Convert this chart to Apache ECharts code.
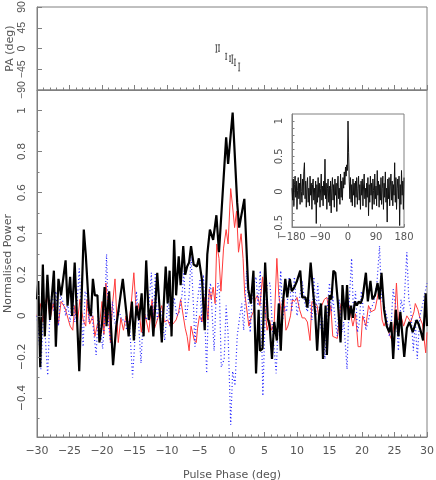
<!DOCTYPE html>
<html>
<head>
<meta charset="utf-8">
<script src="https://cdn.jsdelivr.net/npm/echarts@6/dist/echarts.min.js"></script>
<style>
  html, body { margin: 0; padding: 0; background: #fff; }
  #chart { width: 436px; height: 480px; }
</style>
</head>
<body>
<div id="chart"></div>
<script>
// position angle points: phase (deg), PA (deg), error (deg)
const paPhase = [-2.4, -2.0, -0.9, -0.3, 0.05, 0.45, 1.1];
const paValue = [0, 1, -17, -22, -23, -30, -40];
const paError = [8, 7, 6.5, 6, 9, 7, 8.5];

// main profile, [phase, normalised power]
const totalPower = [
  [-30.0, 0.08], [-29.8, 0.17], [-29.5, -0.25], [-29.1, 0.25], [-28.8, -0.10], [-28.4, 0.20],
  [-28.0, -0.02], [-27.4, 0.22], [-27.1, -0.15], [-26.7, 0.18], [-26.3, 0.10], [-25.6, 0.27],
  [-25.3, 0.05], [-24.9, 0.19], [-24.6, 0.00], [-24.2, 0.26], [-23.5, -0.27], [-22.8, 0.42],
  [-22.5, 0.30], [-22.0, 0.03], [-21.7, 0.00], [-21.4, 0.18], [-21.1, 0.10], [-20.7, 0.10],
  [-20.4, -0.13], [-20.0, -0.04], [-19.6, 0.14], [-19.3, -0.05], [-18.9, 0.12], [-18.3, -0.24],
  [-17.8, -0.05], [-17.5, -0.05], [-16.8, 0.18], [-16.2, 0.00], [-15.9, -0.10], [-15.4, 0.07],
  [-15.1, -0.12], [-14.7, 0.05], [-14.3, -0.02], [-13.9, 0.11], [-13.6, -0.10], [-13.2, 0.27],
  [-12.8, -0.02], [-12.4, 0.05], [-12.1, -0.10], [-11.5, 0.21], [-10.8, -0.13], [-10.2, 0.24],
  [-9.9, 0.06], [-9.6, 0.22], [-9.3, -0.10], [-8.9, 0.37], [-8.6, 0.10], [-8.2, 0.29],
  [-7.9, 0.15], [-7.5, 0.34], [-7.2, 0.20], [-6.9, 0.24], [-6.6, 0.26], [-6.3, 0.34],
  [-5.9, 0.25], [-5.4, 0.24], [-5.1, 0.28], [-4.6, 0.17], [-4.2, -0.07], [-3.8, 0.30],
  [-3.4, 0.42], [-2.9, 0.37], [-2.4, 0.49], [-2.0, 0.31], [-0.9, 0.87], [-0.6, 0.74],
  [0.1, 0.99], [0.8, 0.55], [1.1, 0.43], [1.9, 0.57], [2.5, 0.13], [2.9, 0.06],
  [3.3, 0.22], [3.7, -0.28], [4.1, 0.03], [4.3, -0.17], [4.7, -0.16], [5.1, 0.26],
  [5.5, -0.01], [5.8, -0.05], [6.15, -0.21], [6.5, -0.03], [6.9, -0.12], [7.2, 0.06],
  [7.5, -0.17], [7.8, 0.05], [8.2, 0.18], [8.5, 0.09], [8.9, 0.18], [9.2, 0.12],
  [9.6, 0.14], [10.0, 0.17], [10.5, 0.22], [10.8, 0.09], [11.3, 0.09], [11.6, 0.04],
  [12.1, 0.26], [12.5, 0.11], [12.8, 0.01], [13.1, -0.17], [13.4, 0.00], [13.7, 0.06],
  [14.0, -0.21], [14.4, 0.05], [14.6, -0.19], [15.0, 0.10], [15.3, 0.08], [15.6, 0.22],
  [15.9, 0.21], [16.3, 0.06], [16.7, -0.13], [17.0, 0.15], [17.4, -0.02], [17.7, 0.15],
  [17.95, -0.02], [18.3, 0.05], [18.6, -0.01], [18.9, 0.07], [19.2, 0.05], [19.5, 0.07],
  [19.8, 0.06], [20.1, 0.09], [20.6, 0.21], [20.9, 0.07], [21.3, 0.17], [21.6, 0.08],
  [22.0, 0.10], [22.4, 0.16], [22.7, 0.08], [23.0, 0.21], [23.4, 0.03], [23.8, -0.05],
  [24.2, -0.08], [24.5, -0.03], [24.8, -0.21], [25.2, 0.03], [25.6, -0.10], [25.9, 0.02],
  [26.5, -0.20], [26.9, -0.06], [27.3, -0.03], [27.8, -0.08], [28.4, -0.02], [28.7, -0.04],
  [29.0, -0.07], [29.4, -0.12], [29.8, 0.11], [30.0, -0.05]
];

const linearPower = [
  [-30.0, 0.00], [-29.5, 0.06], [-29.1, -0.03], [-28.8, 0.06], [-28.4, 0.10], [-28.0, -0.02],
  [-27.5, 0.06], [-27.1, 0.00], [-26.9, 0.03], [-26.7, -0.04], [-26.3, 0.07], [-25.7, 0.04],
  [-24.9, -0.05], [-24.5, -0.07], [-24.2, 0.05], [-23.8, -0.04], [-23.4, 0.08], [-22.9, -0.02],
  [-22.5, -0.05], [-22.3, 0.08], [-21.9, -0.04], [-21.4, 0.00], [-21.1, -0.10], [-20.7, -0.04],
  [-20.4, -0.05], [-20.0, 0.07], [-19.7, -0.09], [-19.4, 0.16], [-19.0, 0.02], [-18.7, -0.13],
  [-18.4, 0.05], [-18.0, 0.18], [-17.7, -0.02], [-17.5, -0.13], [-17.1, -0.01], [-16.7, -0.07],
  [-16.3, 0.00], [-16.0, -0.07], [-15.5, 0.06], [-15.1, 0.21], [-14.7, 0.00], [-14.4, 0.06],
  [-13.95, -0.08], [-13.6, 0.03], [-13.2, -0.02], [-12.8, -0.08], [-12.3, 0.08], [-11.9, -0.06],
  [-11.3, 0.00], [-10.8, 0.05], [-10.4, -0.03], [-9.9, -0.02], [-9.5, -0.05], [-9.1, -0.04],
  [-8.6, -0.02], [-8.2, 0.02], [-7.9, 0.08], [-7.5, 0.00], [-7.2, -0.06], [-6.9, -0.10],
  [-6.6, -0.17], [-6.3, -0.05], [-5.8, -0.12], [-5.5, -0.13], [-5.3, -0.06], [-5.0, 0.00],
  [-4.6, -0.03], [-4.2, 0.09], [-3.9, 0.05], [-3.7, -0.02], [-3.5, 0.13], [-3.2, 0.08],
  [-2.9, 0.14], [-2.6, 0.06], [-2.35, 0.35], [-2.0, 0.28], [-1.7, 0.12], [-1.3, 0.33],
  [-0.9, 0.42], [-0.6, 0.35], [-0.2, 0.62], [0.1, 0.53], [0.4, 0.43], [0.7, 0.51],
  [1.0, 0.31], [1.4, 0.40], [1.7, 0.28], [1.95, 0.11], [2.2, 0.05], [2.6, -0.05],
  [3.0, 0.00], [3.3, 0.02], [3.6, 0.08], [3.9, 0.10], [4.3, 0.05], [4.7, 0.19],
  [5.1, 0.03], [5.4, -0.07], [5.8, -0.02], [6.1, -0.07], [6.5, -0.03], [6.9, 0.28],
  [7.2, 0.10], [7.7, -0.01], [8.0, 0.08], [8.3, -0.07], [8.6, -0.05], [9.0, 0.00],
  [9.3, 0.08], [9.6, 0.07], [10.0, 0.09], [10.4, 0.03], [10.8, -0.01], [11.2, -0.01],
  [11.6, -0.03], [12.0, -0.12], [12.3, 0.07], [12.7, 0.06], [13.1, 0.05], [13.4, -0.02],
  [13.8, 0.05], [14.2, 0.08], [14.6, 0.09], [15.0, 0.00], [15.2, 0.05], [15.5, -0.10],
  [15.8, -0.10], [16.2, -0.11], [16.7, 0.05], [17.0, 0.08], [17.3, 0.02], [17.7, 0.07],
  [18.0, 0.05], [18.6, -0.05], [19.0, 0.01], [19.4, -0.15], [19.8, -0.15], [20.1, 0.00],
  [20.6, -0.05], [21.0, 0.05], [21.4, 0.02], [22.0, 0.03], [22.5, 0.11], [22.8, 0.09],
  [23.1, -0.02], [23.4, -0.05], [23.7, -0.02], [24.1, -0.08], [24.6, -0.12], [25.0, -0.02],
  [25.3, 0.16], [25.6, -0.02], [26.0, 0.00], [26.4, -0.05], [26.9, 0.00], [27.5, -0.03],
  [28.0, 0.02], [28.2, 0.06], [28.6, 0.03], [28.9, -0.01], [29.3, -0.04], [29.8, -0.18],
  [30.0, -0.08]
];

const circularPower = [
  [-30.0, 0.00], [-29.6, -0.15], [-29.4, -0.26], [-29.1, -0.05], [-28.9, 0.00], [-28.6, -0.17],
  [-28.35, -0.29], [-28.0, 0.03], [-27.7, 0.12], [-27.4, 0.02], [-27.1, 0.12], [-26.7, -0.05],
  [-26.4, 0.10], [-25.9, 0.06], [-25.6, 0.00], [-25.3, 0.06], [-24.9, -0.03], [-24.5, 0.12],
  [-24.2, -0.03], [-23.8, 0.08], [-23.5, 0.23], [-23.2, 0.02], [-22.9, -0.15], [-22.6, 0.12],
  [-22.3, 0.10], [-22.0, -0.03], [-21.7, 0.05], [-21.4, -0.04], [-20.9, -0.19], [-20.6, 0.00],
  [-20.3, -0.04], [-19.9, -0.16], [-19.6, -0.02], [-19.3, 0.30], [-19.0, -0.04], [-18.7, -0.13],
  [-18.4, 0.07], [-18.0, -0.04], [-17.7, -0.02], [-17.4, 0.03], [-17.0, -0.02], [-16.5, -0.02],
  [-16.2, -0.07], [-15.8, -0.02], [-15.3, -0.30], [-15.0, -0.15], [-14.7, 0.12], [-14.4, -0.02],
  [-14.0, -0.23], [-13.6, 0.03], [-13.2, -0.02], [-12.9, 0.01], [-12.4, 0.21], [-12.1, -0.04],
  [-11.8, 0.21], [-11.5, -0.02], [-11.2, 0.05], [-10.8, 0.01], [-10.35, -0.12], [-9.8, 0.10],
  [-9.6, -0.05], [-9.3, 0.00], [-8.9, 0.09], [-8.5, 0.00], [-8.1, 0.02], [-7.7, 0.10],
  [-7.4, 0.22], [-7.1, -0.02], [-6.9, 0.02], [-6.6, 0.10], [-6.3, 0.29], [-5.9, 0.03],
  [-5.7, -0.15], [-5.4, 0.05], [-5.1, 0.05], [-4.9, 0.18], [-4.7, -0.03], [-4.4, 0.20],
  [-3.9, -0.28], [-3.6, 0.10], [-3.3, 0.16], [-3.0, 0.16], [-2.75, -0.17], [-2.5, 0.05],
  [-2.15, 0.16], [-1.95, 0.14], [-1.65, -0.25], [-1.2, -0.21], [-0.9, 0.05], [-0.6, -0.09],
  [-0.4, -0.31], [-0.2, -0.53], [0.1, -0.27], [0.46, -0.34], [0.8, -0.10], [1.2, 0.00],
  [1.5, 0.06], [1.8, -0.07], [2.25, 0.22], [2.8, -0.08], [3.2, 0.14], [3.7, 0.19],
  [4.0, 0.05], [4.35, 0.22], [4.75, -0.39], [5.1, 0.00], [5.4, 0.15], [5.85, 0.16],
  [6.2, -0.05], [6.8, -0.28], [7.1, -0.03], [7.5, 0.22], [7.8, -0.02], [8.1, 0.05],
  [8.4, 0.02], [8.8, 0.19], [9.2, 0.02], [9.6, 0.19], [10.0, 0.00], [10.5, 0.11],
  [10.8, 0.17], [11.2, 0.06], [11.6, 0.02], [11.9, 0.08], [12.3, -0.02], [12.6, 0.19],
  [12.9, 0.00], [13.2, 0.16], [13.6, -0.06], [13.9, -0.01], [14.3, -0.21], [14.7, 0.05],
  [15.0, 0.16], [15.3, 0.02], [15.5, 0.10], [15.8, 0.00], [16.2, -0.10], [16.5, 0.08],
  [16.9, -0.08], [17.2, -0.03], [17.7, -0.26], [18.0, 0.05], [18.4, 0.28], [18.7, 0.00],
  [19.0, 0.12], [19.3, -0.08], [19.6, -0.03], [19.9, 0.12], [20.3, 0.00], [20.6, -0.07],
  [21.0, -0.02], [21.4, 0.04], [21.8, 0.06], [22.3, 0.16], [22.7, 0.34], [23.0, 0.08],
  [23.4, 0.05], [23.8, 0.00], [24.2, -0.10], [24.5, -0.03], [24.8, 0.13], [25.2, 0.04],
  [25.6, -0.17], [26.0, 0.08], [26.4, 0.02], [26.9, 0.31], [27.2, 0.08], [27.5, 0.03],
  [27.9, -0.17], [28.2, -0.02], [28.5, -0.21], [28.9, 0.00], [29.3, 0.05], [29.6, 0.10],
  [30.0, 0.16]
];

// inset: full rotation, one value every 2 deg from -180 to 180
const insetPower = [
  0.05, -0.12, 0.18, -0.2, 0.1, 0.22, -0.08, 0.15, -0.25, 0.02, 0.2, -0.1, 0.12, -0.18, 0.25, 0.0, -0.15, 0.18, -0.05, 0.28,
  0.41, -0.1, 0.15, -0.22, 0.08, 0.2, -0.15, 0.05, -0.2, 0.22, -0.05, 0.12, -0.25, 0.1, 0.18, -0.12, 0.05, -0.18, 0.15, -0.45,
  0.1, -0.15, 0.2, -0.08, 0.12, -0.22, 0.05, 0.25, -0.12, 0.08, -0.2, 0.15, -0.05, 0.46, -0.1, 0.12, -0.25, 0.05, 0.18, -0.15,
  0.08, -0.2, 0.15, -0.3, 0.05, 0.2, -0.12, 0.1, -0.22, 0.18, -0.05, 0.12, -0.28, 0.08, 0.22, -0.1, 0.05, -0.18, 0.25, -0.08,
  0.15, -0.12, 0.2, 0.05, 0.28, 0.1, 0.35, 0.22, 0.38, 0.3,
  1.0,
  0.55, 0.15, -0.1, 0.2, -0.15, 0.1, -0.2, 0.18, -0.05, 0.12,
  -0.22, 0.15, -0.08, 0.2, -0.18, 0.05, 0.22, -0.12, 0.1, -0.25, 0.15, -0.05, 0.18, -0.2, 0.08, 0.25, -0.1, 0.05, -0.22, 0.12,
  -0.08, 0.2, -0.34, 0.1, -0.15, 0.22, -0.05, 0.12, -0.25, 0.18, 0.02, -0.18, 0.25, -0.1, 0.08, -0.2, 0.3, -0.05, 0.15, -0.22,
  0.1, -0.12, 0.2, -0.18, 0.05, 0.22, -0.25, 0.12, -0.08, 0.28, -0.15, 0.05, -0.43, 0.18, -0.1, 0.2, -0.2, 0.08, 0.25, -0.12,
  0.15, -0.2, 0.1, -0.05, 0.41, -0.15, 0.2, -0.25, 0.05, 0.18, -0.1, 0.22, -0.48, 0.1, -0.18, 0.3, -0.05, 0.15, -0.25, 0.2
];

const paLabels = [-90, -45, 0, 45, 90];
const mainLabels = [-0.4, -0.2, 0, 0.2, 0.4, 0.6, 0.8, 1];
const mainMinor = [-0.5, -0.4, -0.3, -0.2, -0.1, 0, 0.1, 0.2, 0.3, 0.4, 0.5, 0.6, 0.7, 0.8, 0.9, 1, 1.1];
const insetLabels = [-0.5, 0, 0.5, 1];
const insetMinor = [-0.4, -0.3, -0.2, -0.1, 0, 0.1, 0.2, 0.3, 0.4, 0.5, 0.6, 0.7, 0.8, 0.9, 1];

const axisGrey = '#808080';
const textGrey = '#555';
const font = 'DejaVu Sans';

function fmt(v) {
  return String(v).replace('-', '\u2212');
}

const chart = echarts.init(document.getElementById('chart'), null, { renderer: 'canvas' });

const axisLine = { show: true, onZero: false, lineStyle: { color: axisGrey, width: 1 } };
const nameStyle = { color: textGrey, fontFamily: font, fontSize: 11 };

const phaseAxis = (gridIndex, showLabel) => ({
  type: 'value', gridIndex: gridIndex, min: -30, max: 30, interval: 5, z: 10,
  axisLine: axisLine,
  axisTick: { show: true, inside: true, length: 5, lineStyle: { color: axisGrey } },
  minorTick: { show: true, splitNumber: 5, length: 2.5, lineStyle: { color: axisGrey } },
  splitLine: { show: false },
  axisLabel: { show: showLabel, margin: 9, color: textGrey, fontFamily: font, fontSize: 11, formatter: fmt }
});

const gridBase = { show: true, borderColor: axisGrey, borderWidth: 1, containLabel: false, outerBoundsMode: 'none' };

chart.setOption({
  animation: false,
  backgroundColor: '#fff',
  grid: [
    Object.assign({ left: 37, top: 7, width: 390, height: 83 }, gridBase),
    Object.assign({ left: 37, top: 90, width: 390, height: 347 }, gridBase),
    Object.assign({ left: 292, top: 114, width: 112, height: 113, z: 60 }, gridBase)
  ],
  graphic: [
    {
      type: 'rect', z: 50, silent: true,
      shape: { x: 270, y: 104, width: 136, height: 141 },
      style: { fill: '#fff' }
    },
    {
      // left frame edge shared by the PA and power panels
      type: 'line', z: 100, silent: true,
      shape: { x1: 37.5, y1: 7, x2: 37.5, y2: 437 },
      style: { stroke: axisGrey, lineWidth: 1 }
    }
  ],
  xAxis: [
    phaseAxis(0, false),
    Object.assign(phaseAxis(1, true), {
      name: 'Pulse Phase (deg)', nameLocation: 'middle', nameGap: 33, nameMoveOverlap: false,
      nameTextStyle: nameStyle
    }),
    {
      type: 'value', gridIndex: 2, min: -180, max: 180, interval: 90, z: 60,
      axisLine: axisLine,
      axisTick: { show: true, inside: true, length: 3, lineStyle: { color: axisGrey } },
      splitLine: { show: false },
      axisLabel: { margin: 5, color: textGrey, fontFamily: font, fontSize: 10, formatter: fmt,
        showMinLabel: true, showMaxLabel: true }
    }
  ],
  yAxis: [
    {
      type: 'value', gridIndex: 0, min: -90, max: 90, interval: 45, z: 10,
      name: 'PA (deg)', nameLocation: 'middle', nameGap: 21, nameMoveOverlap: false,
      nameTextStyle: nameStyle,
      axisLine: axisLine,
      axisTick: { show: true, inside: true, length: 5, lineStyle: { color: axisGrey } },
      splitLine: { show: false },
      axisLabel: { rotate: 90, margin: 9, customValues: paLabels, showMinLabel: true, showMaxLabel: true,
        color: textGrey, fontFamily: 'Liberation Sans', fontSize: 10.5, formatter: fmt }
    },
    {
      type: 'value', gridIndex: 1, min: -0.59, max: 1.1, position: 'left', z: 10,
      name: 'Normalised Power', nameLocation: 'middle', nameGap: 23, nameMoveOverlap: false,
      nameTextStyle: nameStyle,
      axisLine: axisLine,
      axisTick: { show: true, inside: true, length: 5, customValues: mainLabels, lineStyle: { color: axisGrey } },
      splitLine: { show: false },
      axisLabel: { rotate: 90, margin: 9, customValues: mainLabels, color: textGrey, fontFamily: font, fontSize: 11, formatter: fmt }
    },
    {
      type: 'value', gridIndex: 1, min: -0.59, max: 1.1, position: 'left', z: 10,
      axisLine: { show: false, onZero: false },
      axisTick: { show: true, inside: true, length: 2.5, customValues: mainMinor, lineStyle: { color: axisGrey } },
      splitLine: { show: false },
      axisLabel: { show: false }
    },
    {
      type: 'value', gridIndex: 2, min: -0.5, max: 1.1, position: 'left', z: 60,
      axisLine: axisLine,
      axisTick: { show: true, inside: true, length: 2.5, customValues: insetMinor, lineStyle: { color: axisGrey } },
      splitLine: { show: false },
      axisLabel: { rotate: 90, margin: 8, customValues: insetLabels, color: textGrey, fontFamily: font, fontSize: 10, formatter: fmt }
    }
  ],
  series: [
    {
      type: 'custom', xAxisIndex: 0, yAxisIndex: 0,
      encode: { x: 0, y: 1 },
      data: paPhase.map((p, i) => [p, paValue[i], paError[i]]),
      renderItem: function (params, api) {
        const x = api.value(0), y = api.value(1), e = api.value(2);
        const top = api.coord([x, y + e]);
        const bot = api.coord([x, y - e]);
        const st = { stroke: '#555', lineWidth: 1 };
        return {
          type: 'group',
          children: [
            { type: 'line', shape: { x1: top[0], y1: top[1], x2: bot[0], y2: bot[1] }, style: st },
            { type: 'line', shape: { x1: top[0] - 1, y1: top[1], x2: top[0] + 1, y2: top[1] }, style: st },
            { type: 'line', shape: { x1: bot[0] - 1, y1: bot[1], x2: bot[0] + 1, y2: bot[1] }, style: st }
          ]
        };
      }
    },
    {
      name: 'linear', type: 'line', xAxisIndex: 1, yAxisIndex: 1,
      data: linearPower, symbol: 'none',
      lineStyle: { color: '#ff3b3b', width: 1 }
    },
    {
      name: 'circular', type: 'line', xAxisIndex: 1, yAxisIndex: 1,
      data: circularPower, symbol: 'none',
      lineStyle: { color: '#2222ff', width: 1.2, type: [1, 2.5] }
    },
    {
      name: 'total', type: 'line', xAxisIndex: 1, yAxisIndex: 1,
      data: totalPower, symbol: 'none',
      lineStyle: { color: '#000', width: 2.2 }
    },
    {
      name: 'inset', type: 'line', xAxisIndex: 2, yAxisIndex: 3, z: 60,
      data: insetPower.map((v, i) => [-180 + 2 * i, v]), symbol: 'none',
      lineStyle: { color: '#111', width: 1 }
    }
  ]
});
</script>
</body>
</html>
